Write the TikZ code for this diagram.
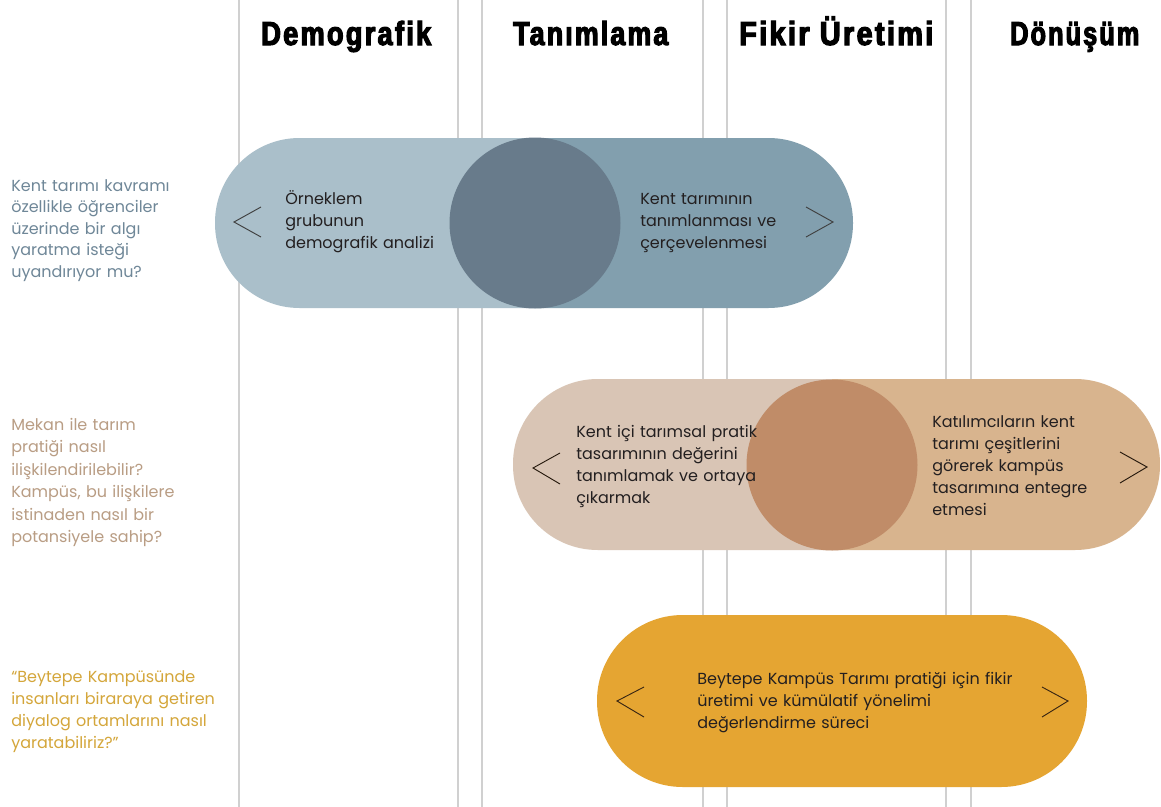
\documentclass[tikz,border=0pt]{standalone}
\usepackage{fontspec}
\usepackage{graphicx}
\setmainfont{Poppins}
\newfontfamily\headfont[FakeBold=3.2,FakeStretch=0.72,LetterSpace=6]{Liberation Sans}
\definecolor{vline}{HTML}{D0D0D0}
\definecolor{aL}{HTML}{AABFCA}
\definecolor{aR}{HTML}{829FAE}
\definecolor{aC}{HTML}{687B8B}
\definecolor{bL}{HTML}{D9C5B5}
\definecolor{bR}{HTML}{D8B48E}
\definecolor{bC}{HTML}{C08C68}
\definecolor{cG}{HTML}{E5A532}
\definecolor{qA}{HTML}{6F8798}
\definecolor{qB}{HTML}{B99D84}
\definecolor{qC}{HTML}{D4A63A}
\definecolor{tx}{HTML}{231F20}
\tikzset{
  gridline/.style={draw=vline, line width=1.5pt},
  head/.style={inner sep=0pt, anchor=base west, font=\fontsize{25}{25}\selectfont\headfont\bfseries},
  ptext/.style={inner sep=0pt, anchor=base west, text width=230pt, align=left, text=tx, font=\fontsize{12}{16.5}\selectfont},
  qtext/.style={inner sep=0pt, anchor=base west, text width=200pt, align=left, font=\fontsize{12}{16.2}\selectfont},
  chev/.style={line width=0.7pt, line join=miter}
}
\begin{document}
\begin{tikzpicture}[x=0.75pt,y=-0.75pt]
\useasboundingbox (0,0) rectangle (1161,807);
\fill[white] (0,0) rectangle (1161,807);
% grid lines
\foreach \xx in {239,458,482,703,727,946,971}
  \draw[gridline] (\xx,0) -- (\xx,807);
% headings
\node[head] (h1) at (261,45) {\resizebox{127.5pt}{\height}{Demografik}};
\node[head] (h2) at (513,45) {\resizebox{116.25pt}{\height}{Tanımlama}};
\node[head] (h3) at (739,45) {\resizebox{145.5pt}{\height}{Fikir Üretimi}};
\node[head] (h4) at (1010,45) {\resizebox{96.75pt}{\height}{Dönüşüm}};
% row 1 pill
\begin{scope}
  \clip[rounded corners=63.4pt] (215,138) rectangle (853,308);
  \fill[aL] (214,137) rectangle (535,309);
  \fill[aR] (535,137) rectangle (854,309);
\end{scope}
\fill[aC] (535,223) circle (85.5);
\draw[chev, draw=black!75] (261,207) -- (234,222) -- (261,237);
\draw[chev, draw=black!75] (806,207) -- (833,222) -- (806,237);
% row 2 pill
\begin{scope}
  \clip[rounded corners=63.6pt] (513,379) rectangle (1160,550);
  \fill[bL] (512,378) rectangle (832,551);
  \fill[bR] (832,378) rectangle (1161,551);
\end{scope}
\fill[bC] (832,465) circle (85.5);
\draw[chev, draw=black!80!brown] (560,453) -- (533,468) -- (560,484);
\draw[chev, draw=black!80!brown] (1120,452) -- (1147,467) -- (1120,483);
% row 3 pill
\fill[cG, rounded corners=64.3pt] (597,615) rectangle (1087,787);
\draw[chev, draw=black!70!brown] (644,687) -- (617,701) -- (644,717);
\draw[chev, draw=black!70!brown] (1042,687) -- (1068,701) -- (1042,717);
% pill texts
\node[ptext] (t1a) at (285,204) {Örneklem\\grubunun\\demografik analizi};
\node[ptext] (t1b) at (640,204) {Kent tarımının\\tanımlanması ve\\çerçevelenmesi};
\node[ptext] (t2a) at (576,437) {Kent içi tarımsal pratik\\tasarımının değerini\\tanımlamak ve ortaya\\çıkarmak};
\node[ptext] (t2b) at (932,427) {Katılımcıların kent\\tarımı çeşitlerini\\görerek kampüs\\tasarımına entegre\\etmesi};
\node[ptext, text width=330pt] (t3) at (697,684) {Beytepe Kampüs Tarımı pratiği için fikir\\üretimi ve kümülatif yönelimi\\değerlendirme süreci};
% questions
\node[qtext, text=qA] (q1) at (11,191) {Kent tarımı kavramı\\özellikle öğrenciler\\üzerinde bir algı\\yaratma isteği\\uyandırıyor mu?};
\node[qtext, text=qB, font=\fontsize{12}{16.9}\selectfont] (q2) at (11,430) {Mekan ile tarım\\pratiği nasıl\\ilişkilendirilebilir?\\Kampüs, bu ilişkilere\\istinaden nasıl bir\\potansiyele sahip?};
\node[qtext, text=qC, font=\fontsize{12}{16.7}\selectfont] (q3) at (11,682) {“Beytepe Kampüsünde\\insanları biraraya getiren\\diyalog ortamlarını nasıl\\yaratabiliriz?”};
\end{tikzpicture}
\end{document}
